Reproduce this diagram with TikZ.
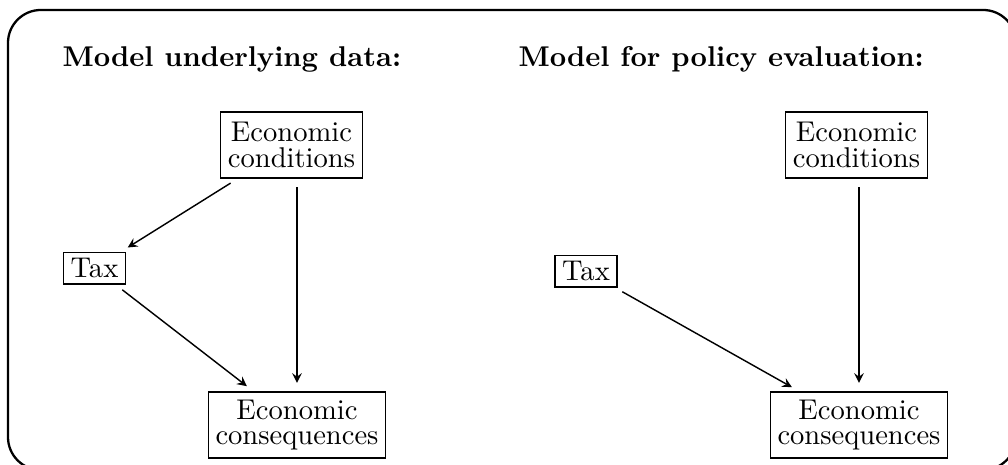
\documentclass[tikz,border=0pt]{standalone}
\usetikzlibrary{arrows}
\begin{document}
\begin{tikzpicture}[x=0.35pt, y=-0.35pt, >=stealth,
	box/.style={draw, line width=0.5pt, align=center, inner xsep=2.5pt, inner ysep=2pt, font=\fontsize{10}{9}\selectfont},
	tallbox/.style={box, minimum height=23pt},
	heading/.style={anchor=base west, inner sep=0pt, font=\bfseries},
	link/.style={->, line width=0.5pt, shorten >=3pt, shorten <=3pt}]
	\useasboundingbox (0,0) rectangle (1008,465);
	\draw[thick, rounded corners=11.5pt] (8,10) rectangle (1016,470);
	
	% left panel
	\node[heading] (headL) at (62,66.7) {Model underlying data:};
	\node[tallbox] (condL) at (291.5,145) {Economic\\conditions};
	\node[box] (taxL) at (94.5,268.3) {Tax};
	\node[tallbox] (consL) at (297,425) {Economic\\consequences};
	
	% right panel
	\node[heading] (headR) at (518,66.7) {Model for policy evaluation:};
	\node[tallbox] (condR) at (856.5,145) {Economic\\conditions};
	\node[box] (taxR) at (586,271.3) {Tax};
	\node[tallbox] (consR) at (859,425) {Economic\\consequences};
	
	\draw[link] (condL) -- (taxL);
	\draw[link] (taxL) -- (consL);
	\foreach \s in {L,R} {
		\draw[link] (cond\s.south -| cons\s.north) -- (cons\s.north);
	}
	\draw[link] (taxR) -- (consR);
\end{tikzpicture}
\end{document}
